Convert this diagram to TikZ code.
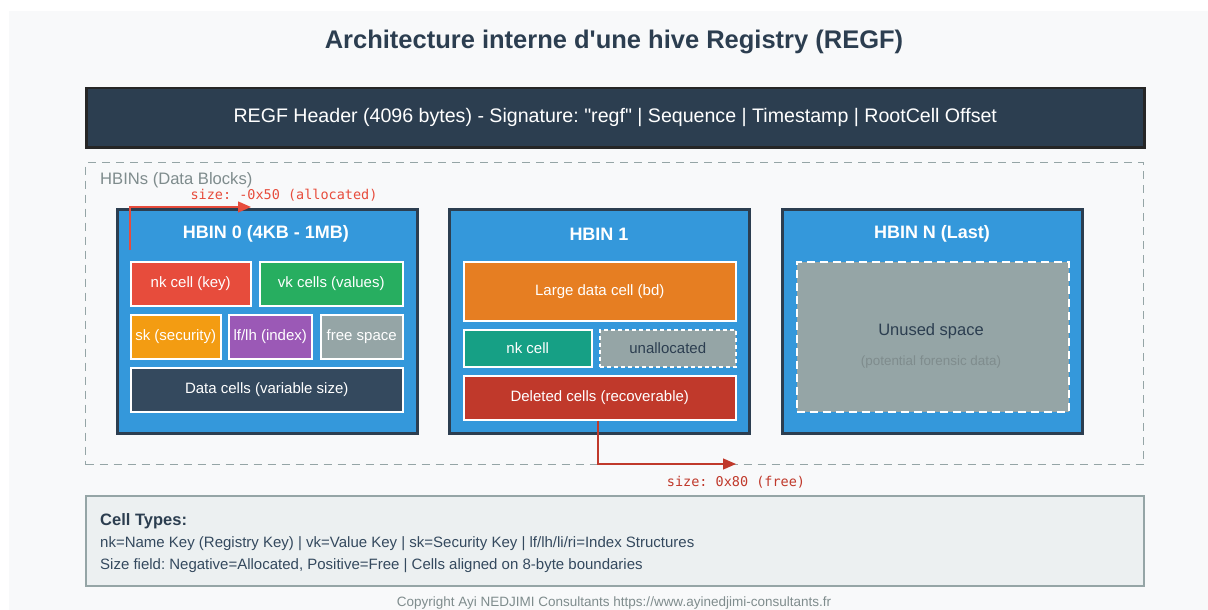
\documentclass[tikz,border=0pt]{standalone}
\usepackage{fontspec}
\setmainfont{Liberation Sans}
\newfontfamily\plainsans{Liberation Sans}
\newfontfamily\monofont{DejaVu Sans Mono}
\usetikzlibrary{arrows.meta}
\definecolor{dark}{HTML}{2C3E50}
\definecolor{bgc}{HTML}{F8F9FA}
\definecolor{blu}{HTML}{3498DB}
\definecolor{gry}{HTML}{95A5A6}
\definecolor{gtx}{HTML}{7F8C8D}
\definecolor{redc}{HTML}{E74C3C}
\definecolor{dred}{HTML}{C0392B}
\definecolor{grn}{HTML}{27AE60}
\definecolor{orng}{HTML}{F39C12}
\definecolor{purp}{HTML}{9B59B6}
\definecolor{slate}{HTML}{34495E}
\definecolor{oran}{HTML}{E67E22}
\definecolor{teal}{HTML}{16A085}
\definecolor{light}{HTML}{ECF0F1}
\frenchspacing
\begin{document}
\begin{tikzpicture}[x=1pt,y=-1pt,
  cell/.style={draw=white, line width=1.5pt, anchor=north west, inner sep=0pt},
  celltext/.style={text=white, font=\fontsize{15}{17}\selectfont},
  hbin/.style={draw=dark, line width=2.5pt, fill=blu, anchor=north west, inner sep=0pt, minimum width=300, minimum height=224},
  hbintitle/.style={text=white, font=\fontsize{18}{20}\selectfont\bfseries},
  sizelbl/.style={font=\monofont\fontsize{13.5}{15}\selectfont}
]
\useasboundingbox (0,0) rectangle (1208,610);
\fill[white] (0,0) rectangle (1208,610);
\fill[bgc] (9,11) rectangle (1208,610);

\node[text=dark, font=\plainsans\fontsize{25.5}{28}\selectfont\bfseries] (title) at (614,42) {Architecture interne d'une hive Registry (REGF)};

\node[draw=black!85, line width=2.5pt, fill=dark, anchor=north west, minimum width=1058, minimum height=59, inner sep=0pt, text=white, font=\plainsans\fontsize{19.6}{22}\selectfont] (hdr) at (85,87) {\raisebox{-1.5pt}{REGF Header (4096 bytes) - Signature: "regf" | Sequence | Timestamp | RootCell Offset}};

\node[draw=gry, line width=1.3pt, dash pattern=on 8pt off 6pt, anchor=north west, minimum width=1058, minimum height=302, inner sep=0pt] (hbins) at (85,162) {};
\node[anchor=west, text=gtx, font=\fontsize{16.6}{19}\selectfont, inner sep=0pt] (hbinslbl) at (100,180) {HBINs (Data Blocks)};

% HBIN 0
\node[hbin] (h0) at (116,208) {};
\node[hbintitle] (h0t) at (266,234) {HBIN 0 (4KB - 1MB)};
\node[cell, fill=redc, minimum width=120, minimum height=44] (nk) at (130,261) {};
\node[celltext] at (nk.center) {nk cell (key)};
\node[cell, fill=grn, minimum width=143, minimum height=44] (vk) at (259,261) {};
\node[celltext] at (vk.center) {vk cells (values)};
\node[cell, fill=orng, minimum width=90, minimum height=44] (sk) at (130,314) {};
\node[celltext] at (sk.center) {sk (security)};
\node[cell, fill=purp, minimum width=83, minimum height=44] (lf) at (228,314) {};
\node[celltext] at (lf.center) {lf/lh (index)};
\node[cell, fill=gry, minimum width=82, minimum height=44] (fs) at (320,314) {};
\node[celltext] at (fs.center) {free space};
\node[cell, fill=slate, minimum width=272, minimum height=44] (dc) at (130,367) {};
\node[celltext] at (dc.center) {Data cells (variable size)};

% HBIN 1
\node[hbin] (h1) at (448,208) {};
\node[hbintitle] (h1t) at (599,234) {HBIN 1};
\node[cell, fill=oran, minimum width=272, minimum height=59] (bd) at (463,261) {};
\node[celltext] at (bd.center) {Large data cell (bd)};
\node[cell, fill=teal, minimum width=128, minimum height=37] (nk1) at (463,329) {};
\node[celltext] at (nk1.center) {nk cell};
\node[cell, fill=gry, dash pattern=on 4pt off 3pt, minimum width=136, minimum height=37] (ua) at (599,329) {};
\node[celltext, text=dark] at (ua.center) {unallocated};
\node[cell, fill=dred, minimum width=272, minimum height=44] (del) at (463,375) {};
\node[celltext] at (del.center) {Deleted cells (recoverable)};

% HBIN N
\node[hbin] (hn) at (781,208) {};
\node[hbintitle] (hnt) at (932,234) {HBIN N (Last)};
\node[cell, fill=gry, dash pattern=on 8pt off 5pt, minimum width=272, minimum height=150] (us) at (796,261) {};
\node[text=dark, font=\fontsize{16.5}{19}\selectfont] (ust) at (931,331) {Unused space};
\node[text=gtx, font=\fontsize{13.4}{15}\selectfont] (usp) at (931,362) {(potential forensic data)};

% size arrows
\coordinate (a0) at (130,250);
\coordinate (a1) at (251,207);
\draw[redc, line width=1.3pt, -{Triangle[length=13pt,width=11pt]}] (a0) |- (a1);
\node[sizelbl, text=redc] (s1) at (284,195) {size: -0x50 (allocated)};
\coordinate (b1) at (736,464);
\draw[dred, line width=1.3pt, -{Triangle[length=13pt,width=11pt]}] (del.south -| 598,0) |- (b1);
\node[sizelbl, text=dred] (s2) at (736,482) {size: 0x80 (free)};

% cell types box
\node[draw=gry, line width=1.5pt, fill=light, anchor=north west, minimum width=1058, minimum height=90, inner sep=0pt] (ct) at (85,495) {};
\node[anchor=west, inner sep=0pt, text=dark, font=\fontsize{16.5}{19}\selectfont\bfseries] (ct1) at (100,521) {Cell Types:};
\node[anchor=west, inner sep=0pt, text=slate, font=\fontsize{15}{17}\selectfont] (ct2) at (100,544) {nk=Name Key (Registry Key) | vk=Value Key | sk=Security Key | lf/lh/li/ri=Index Structures};
\node[anchor=west, inner sep=0pt, text=slate, font=\fontsize{15}{17}\selectfont] (ct3) at (100,566) {Size field: Negative=Allocated, Positive=Free | Cells aligned on 8-byte boundaries};

\node[text=gtx, font=\fontsize{13.5}{15}\selectfont] (copy) at (614,603) {Copyright Ayi NEDJIMI Consultants https://www.ayinedjimi-consultants.fr};
\end{tikzpicture}
\end{document}
